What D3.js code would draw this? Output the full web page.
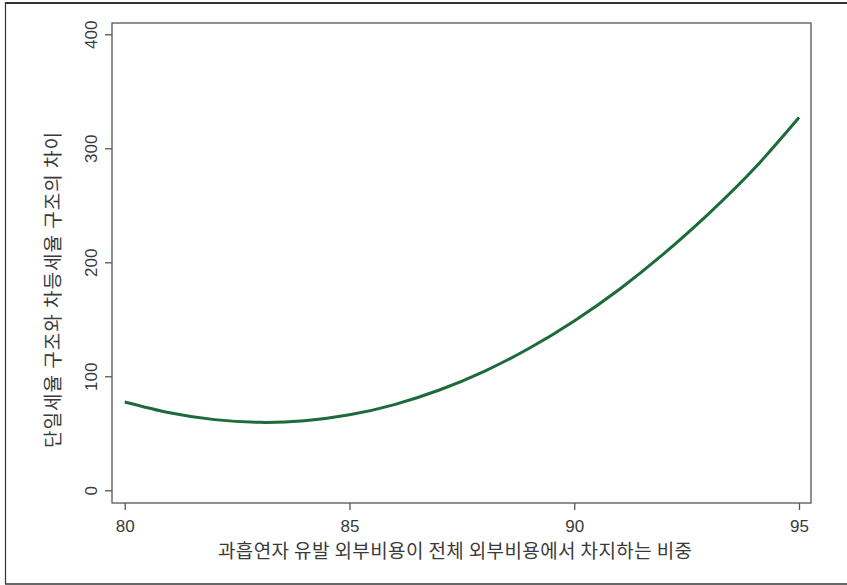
<!DOCTYPE html>
<html>
<head>
<meta charset="utf-8">
<script src="https://cdn.jsdelivr.net/npm/d3@7"></script>
<style>
  html, body { margin: 0; padding: 0; background: #fff; }
  svg { display: block; }
</style>
</head>
<body>
<svg id="chart" width="847" height="585"></svg>
<script>
// Share of external cost caused by heavy smokers (%) and the gap between
// flat-rate and differential-rate tax structures.
const shareValues = [80, 81, 82, 83, 84, 85, 86, 87, 88, 89, 90, 91, 92, 93, 94, 95];
const gapValues   = [77.5, 68, 62, 59.6, 61, 66.2, 75.2, 88, 104.4, 124.6, 148.6, 176.2, 207.8, 243, 282, 327];
const xTicks = [80, 85, 90, 95];
const yTicks = [0, 100, 200, 300, 400];
const xTitle = "과흡연자 유발 외부비용이 전체 외부비용에서 차지하는 비중";
const yTitle = "단일세율 구조와 차등세율 구조의 차이";

const svg = d3.select("#chart");
const W = 847, H = 585;

const axisColor = "#5a5454";
const textColor = "#3a3a3a";
const lineColor = "#1d6a3a";
const latin = "'Liberation Sans', Arial, sans-serif";
const korean = "'Noto Sans CJK KR', 'Noto Sans', sans-serif";

// outer frame (top, left, bottom)
svg.append("line").attr("x1", 5).attr("x2", W).attr("y1", 3).attr("y2", 3)
  .attr("stroke", "#333").attr("stroke-width", 2);
svg.append("line").attr("x1", 5.5).attr("x2", 5.5).attr("y1", 2).attr("y2", 584)
  .attr("stroke", "#333").attr("stroke-width", 1.2);
svg.append("line").attr("x1", 5).attr("x2", W).attr("y1", 584).attr("y2", 584)
  .attr("stroke", "#333").attr("stroke-width", 1.5);

// plot region
const plot = { left: 112, right: 811, top: 23, bottom: 503 };

const x = d3.scaleLinear().domain([80, 95]).range([124.7, 799]);
const y = d3.scaleLinear().domain([0, 400]).range([490.3, 34.3]);

// plot box outline
svg.append("rect")
  .attr("x", plot.left).attr("y", plot.top)
  .attr("width", plot.right - plot.left).attr("height", plot.bottom - plot.top)
  .attr("fill", "none").attr("stroke", axisColor).attr("stroke-width", 1.3);

// y axis
const yAxis = svg.append("g")
  .attr("transform", `translate(${plot.left},0)`)
  .call(d3.axisLeft(y).tickValues(yTicks).tickSize(7).tickFormat(d3.format("d")));
yAxis.select(".domain").remove();
yAxis.selectAll(".tick line").attr("stroke", axisColor).attr("stroke-width", 1.3);
yAxis.selectAll(".tick text")
  .attr("x", null).attr("dy", null)
  .attr("transform", "translate(-15,0) rotate(-90)")
  .attr("text-anchor", "middle")
  .attr("fill", textColor)
  .style("font-family", latin).style("font-size", "17px");

// x axis
const xAxis = svg.append("g")
  .attr("transform", `translate(0,${plot.bottom})`)
  .call(d3.axisBottom(x).tickValues(xTicks).tickSize(7).tickFormat(d3.format("d")));
xAxis.select(".domain").remove();
xAxis.selectAll(".tick line").attr("stroke", axisColor).attr("stroke-width", 1.3);
xAxis.selectAll(".tick text")
  .attr("y", 29).attr("dy", null)
  .attr("fill", textColor)
  .style("font-family", latin).style("font-size", "17px");

// axis titles
svg.append("text")
  .attr("x", 455).attr("y", 558)
  .attr("text-anchor", "middle")
  .attr("fill", textColor)
  .attr("textLength", 474).attr("lengthAdjust", "spacing")
  .style("font-family", korean).style("font-size", "19px")
  .text(xTitle);

svg.append("text")
  .attr("transform", "translate(60,290) rotate(-90)")
  .attr("text-anchor", "middle")
  .attr("fill", textColor)
  .attr("textLength", 316).attr("lengthAdjust", "spacing")
  .style("font-family", korean).style("font-size", "19px")
  .text(yTitle);

// curve
const line = d3.line()
  .x((d, i) => x(shareValues[i]))
  .y(d => y(d))
  .curve(d3.curveNatural);

svg.append("path")
  .datum(gapValues)
  .attr("d", line)
  .attr("fill", "none")
  .attr("stroke", lineColor)
  .attr("stroke-width", 3);
</script>
</body>
</html>
